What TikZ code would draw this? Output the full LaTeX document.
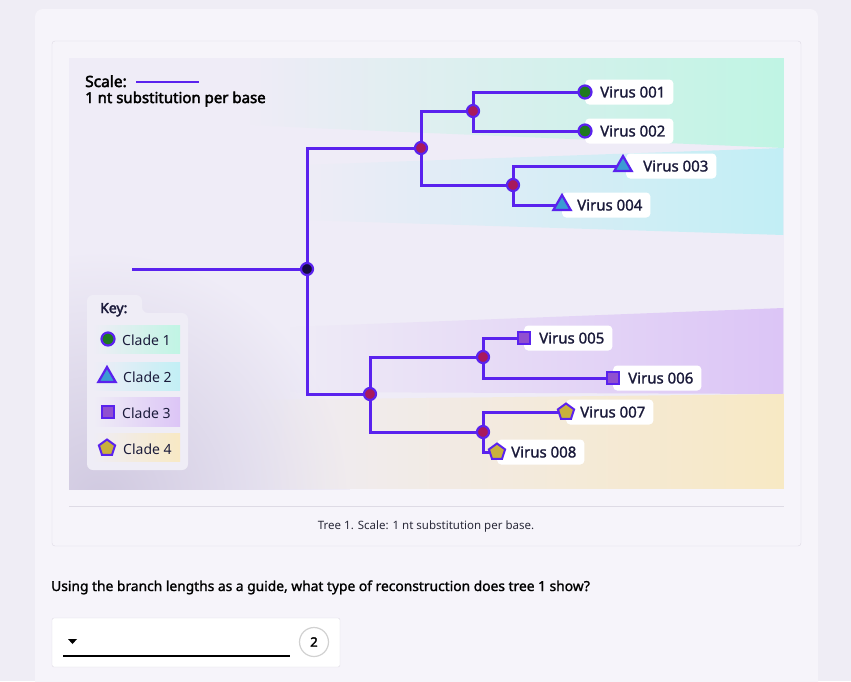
\documentclass[tikz,border=0pt]{standalone}
\usepackage{fontspec}
\setmainfont{Noto Sans}
\newfontfamily\semib[FakeBold=1.4]{Noto Sans}
\newfontfamily\boldf[FakeBold=2.6]{Noto Sans}
\usetikzlibrary{shapes.geometric,fadings}
\pgfdeclarelayer{bg}
\pgfdeclarelayer{lines}
\pgfdeclarelayer{lbl}
\pgfsetlayers{bg,lines,lbl,main}
\tikzfading[name=bandfade, left color=transparent!100, middle color=transparent!30, right color=transparent!0]

\definecolor{pagebg}{HTML}{EFEDF5}
\definecolor{cardbg}{HTML}{F6F4FA}
\definecolor{frameline}{HTML}{DEDBE5}
\definecolor{panelbg}{HTML}{EFECF7}
\definecolor{keybg}{HTML}{EFEDF6}
\definecolor{mint}{HTML}{C0F5E4}
\definecolor{cyanb}{HTML}{C2EFF5}
\definecolor{purpb}{HTML}{DCC5F6}
\definecolor{yellb}{HTML}{F8E9C4}
\definecolor{branchc}{HTML}{5A22EE}
\definecolor{inodec}{HTML}{A8195C}
\definecolor{rootc}{HTML}{160C40}
\definecolor{greenc}{HTML}{1F7A1F}
\definecolor{bluec}{HTML}{3C9BD3}
\definecolor{violc}{HTML}{9050D0}
\definecolor{mustc}{HTML}{C9B03C}
\definecolor{inkc}{HTML}{1B1B3B}
\definecolor{shadec}{HTML}{D0C9E0}
\definecolor{capc}{HTML}{2A2A3A}

\begin{document}
\begin{tikzpicture}[x=1pt,y=-1pt,
  branch/.style={draw=branchc, line width=3pt},
  inode/.style={circle, inner sep=0pt, minimum size=12pt, fill=inodec, draw=branchc, line width=2.2pt},
  rootn/.style={inode, fill=rootc},
  c1/.style={circle, inner sep=0pt, minimum size=13pt, fill=greenc, draw=branchc, line width=2.2pt},
  c2/.style={regular polygon, regular polygon sides=3, inner sep=0pt, minimum size=20pt, fill=bluec, draw=branchc, line width=2.2pt},
  c3/.style={rectangle, inner sep=0pt, minimum size=12pt, fill=violc, draw=branchc, line width=2pt},
  c4/.style={regular polygon, regular polygon sides=5, inner sep=0pt, minimum size=17pt, fill=mustc, draw=branchc, line width=2pt},
  vlab/.style={anchor=west, fill=white, rounded corners=4pt, inner xsep=8pt, inner ysep=0pt, minimum height=25pt, text=inkc, font=\semib\fontsize{15}{18}\selectfont},
  klab/.style={anchor=base west, inner sep=0pt, text=inkc, font=\fontsize{14}{17}\selectfont},
  band/.style={path fading=bandfade},
]
\useasboundingbox (0,0) rectangle (851,681);

\begin{pgfonlayer}{bg}
  \fill[pagebg] (0,0) rectangle (851,681);
  \fill[cardbg, rounded corners=8pt] (35,9) rectangle (818,720);
  \filldraw[fill=cardbg, draw=frameline, rounded corners=3pt] (52,41) rectangle (801,546);
  \fill[panelbg] (69,58) rectangle (784,489);
  \begin{scope}
    \clip (69,58) rectangle (784,489);
    \shade[inner color=shadec, outer color=panelbg] (100,500) circle (250);
    \fill[mint, band] (250,58) -- (784,58) -- (784,148) -- (310,128) -- (250,125) -- cycle;
    \fill[cyanb, band] (300,165) -- (784,148) -- (784,235) -- (300,220) -- cycle;
    \fill[purpb, band] (290,327) -- (784,308) -- (784,394) -- (290,392) -- cycle;
    \fill[yellb, band] (250,400) -- (784,394) -- (784,489) -- (250,489) -- cycle;
  \end{scope}
  \draw[frameline] (69,506) -- (784,506);
\end{pgfonlayer}

% scale
\node[anchor=base west, inner sep=0pt, text=black, font=\boldf\fontsize{15.5}{18}\selectfont] (scl) at (85,87) {Scale:};
\coordinate (sc1) at (136,82);
\coordinate (sc2) at (199,82);
\draw[branch, line width=2.6pt] (sc1) -- (sc2);
\node[anchor=base west, inner sep=0pt, text=black, font=\boldf\fontsize{15}{18}\selectfont] (scl2) at (85,103) {1 nt substitution per base};

% tree nodes
\coordinate (S) at (132,269);
\node[rootn] (R) at (307,269) {};
\node[inode] (A) at (421,148) {};
\node[inode] (B) at (473,111) {};
\node[inode] (C) at (513,185) {};
\node[inode] (D) at (370,394) {};
\node[inode] (E) at (483,357) {};
\node[inode] (F) at (483,432) {};
\node[c1] (L1) at (585,92) {};
\node[c1] (L2) at (585,131) {};
\node[c2] (L3) at (623,166) {};
\node[c2] (L4) at (562,205) {};
\node[c3] (L5) at (524,338) {};
\node[c3] (L6) at (613,378) {};
\node[c4] (L7) at (566,412) {};
\node[c4] (L8) at (497,452) {};

\begin{pgfonlayer}{lines}
  \draw[branch] (S) -- (R.center);
  \draw[branch] (R.center) |- (A.center);
  \draw[branch] (R.center) |- (D.center);
  \draw[branch] (A.center) |- (B.center);
  \draw[branch] (A.center) |- (C.center);
  \draw[branch] (B.center) |- (L1.center);
  \draw[branch] (B.center) |- (L2.center);
  \draw[branch] (C.center) |- (L3.center);
  \draw[branch] (C.center) |- (L4.center);
  \draw[branch] (D.center) |- (E.center);
  \draw[branch] (D.center) |- (F.center);
  \draw[branch] (E.center) |- (L5.center);
  \draw[branch] (E.center) |- (L6.center);
  \draw[branch] (F.center) |- (L7.center);
  \draw[branch] (F.center) |- (L8.center);
\end{pgfonlayer}

\begin{pgfonlayer}{lbl}
  \node[vlab] (T1) at (L1.center) {\hspace*{7pt}Virus 001};
  \node[vlab] (T2) at (L2.center) {\hspace*{7pt}Virus 002};
  \node[vlab] (T3) at ([xshift=3pt]L3.center) {\hspace*{9pt}Virus 003};
  \node[vlab] (T4) at (L4.center) {\hspace*{7pt}Virus 004};
  \node[vlab] (T5) at (L5.center) {\hspace*{7pt}Virus 005};
  \node[vlab] (T6) at (L6.center) {\hspace*{7pt}Virus 006};
  \node[vlab] (T7) at (L7.center) {\hspace*{6pt}Virus 007};
  \node[vlab] (T8) at (L8.center) {\hspace*{6pt}Virus 008};
  % key box
  \fill[keybg, rounded corners=6pt] (87,295) -- (142,295) -- (142,313) -- (188,313) -- (188,470) -- (87,470) -- cycle;
  \shade[left color=keybg, right color=mint] (93,325) rectangle (180,353);
  \shade[left color=keybg, right color=cyanb] (93,362) rectangle (180,390);
  \shade[left color=keybg, right color=purpb] (93,397) rectangle (180,426);
  \shade[left color=keybg, right color=yellb] (93,433) rectangle (180,461);
\end{pgfonlayer}

\node[anchor=base west, inner sep=0pt, text=inkc, font=\boldf\fontsize{14}{17}\selectfont] (key) at (100,313) {Key:};
\node[c1] (K1) at (108,339) {};
\node[c2] (K2) at (107,377) {};
\node[c3] (K3) at (108,412) {};
\node[c4] (K4) at (107,448) {};
\node[klab] (KT1) at (122,345) {Clade 1};
\node[klab] (KT2) at (123,382) {Clade 2};
\node[klab] (KT3) at (122,418) {Clade 3};
\node[klab] (KT4) at (123,454) {Clade 4};

% caption
\node[inner sep=0pt, text=capc, font=\fontsize{11.5}{14}\selectfont] (cap) at (426,526) {Tree 1. Scale: 1 nt substitution per base.};

% question
\node[anchor=base west, inner sep=0pt, text=black, font=\semib\fontsize{13.8}{16}\selectfont] (q) at (51,591) {Using the branch lengths as a guide, what type of reconstruction does tree 1 show?};

% dropdown
\filldraw[fill=white, draw=frameline, rounded corners=2pt] (52,618) rectangle (340,667);
\fill[black] (68,639) -- (77,639) -- (72.5,644) -- cycle;
\draw[black, line width=1.4pt] (63,656) -- (290,656);
\node[circle, draw=black!18, line width=1.2pt, fill=white, minimum size=29pt, inner sep=0pt, text=black, font=\boldf\fontsize{13}{15}\selectfont] (num) at (314,642) {2};
\end{tikzpicture}
\end{document}
